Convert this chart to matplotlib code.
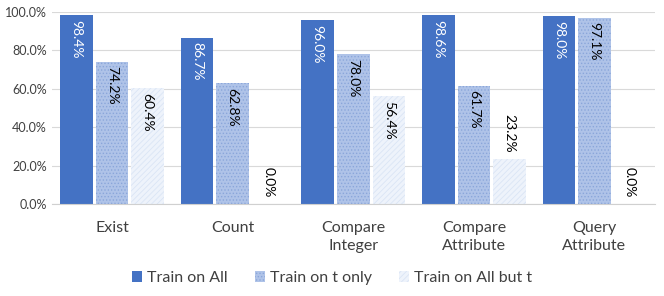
import matplotlib
matplotlib.use("Agg")
import matplotlib.pyplot as plt
import numpy as np

plt.rcParams['font.family'] = ['Lato', 'DejaVu Sans']
plt.rcParams['hatch.linewidth'] = 0.6

categories = ["Exist", "Count", "Compare\nInteger", "Compare\nAttribute", "Query\nAttribute"]
train_all = [98.4, 86.7, 96.0, 98.6, 98.0]
train_t_only = [74.2, 62.8, 78.0, 61.7, 97.1]
train_all_but_t = [60.4, 0.0, 56.4, 23.2, 0.0]
series_names = ["Train on All", "Train on t only", "Train on All but t"]

fig = plt.figure(figsize=(6.64, 2.96), dpi=100)
ax = fig.add_axes([0.078, 0.311, 0.908, 0.648])

x = np.arange(len(categories))
w = 0.27
step = 0.295
styles = [
    dict(facecolor='#4472C4', edgecolor='#4472C4', hatch=None, txt='white'),
    dict(facecolor='#AFC3E8', edgecolor='#8AA6DA', hatch='.....', txt='black'),
    dict(facecolor='#EEF3FB', edgecolor='#DAE5F5', hatch='//////', txt='black'),
]
data = [train_all, train_t_only, train_all_but_t]

handles = []
for i, (vals, st, name) in enumerate(zip(data, styles, series_names)):
    pos = x + (i - 1) * step
    bars = ax.bar(pos, [v / 100 for v in vals], width=w, facecolor=st['facecolor'],
                  edgecolor=st['edgecolor'] if st['hatch'] else 'none',
                  hatch=st['hatch'], linewidth=0, label=name, zorder=2)
    handles.append(bars)
    for p, v in zip(pos, vals):
        if v > 30:
            ax.text(p, v / 100 - 0.025, f"{v:.1f}%", rotation=270, ha='center', va='top',
                    fontsize=10, color=st['txt'], zorder=3)
        else:
            ax.text(p, v / 100 + 0.035, f"{v:.1f}%", rotation=270, ha='center', va='bottom',
                    fontsize=10, color='black', zorder=3)

ax.set_xlim(-0.5, len(categories) - 0.5)
ax.set_ylim(0, 1.0)
ax.set_yticks(np.arange(0, 1.01, 0.2))
ax.set_yticklabels([f"{t*100:.1f}%" for t in np.arange(0, 1.01, 0.2)], fontsize=9, color='#404040')
ax.set_xticks(x)
ax.set_xticklabels(categories, fontsize=11.5, color='#404040', linespacing=1.4)
ax.tick_params(axis='both', length=0)
ax.tick_params(axis='x', pad=12)
ax.grid(axis='y', color='#D9D9D9', linewidth=0.8, zorder=0)
for s in ['top', 'right', 'left']:
    ax.spines[s].set_visible(False)
ax.spines['bottom'].set_color('#D0D0D0')

leg = fig.legend(handles=handles, labels=series_names, loc='center', bbox_to_anchor=(0.5, 0.06),
                 ncol=3, frameon=False, fontsize=11.5, handlelength=0.65, handleheight=0.65,
                 handletextpad=0.3, columnspacing=1.7)
for t in leg.get_texts():
    t.set_color('#404040')

fig.savefig("out.png", dpi=100)
